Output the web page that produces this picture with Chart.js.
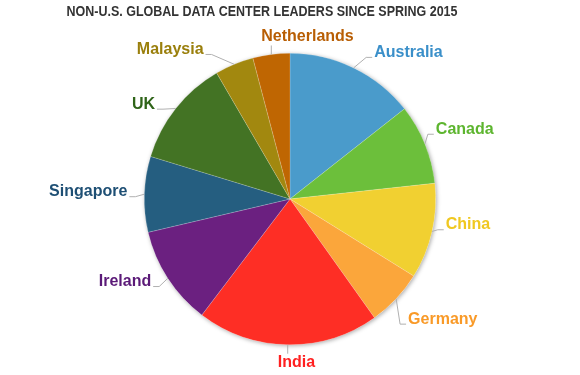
<!DOCTYPE html>
<html lang="en">
  <head>
    <meta charset="UTF-8" />
    <title>Non-U.S. Global Data Center Leaders</title>
    <script src="https://cdn.jsdelivr.net/npm/chart.js"></script>
    <style>
      body { margin: 0; background: #fff; }
      canvas { display: block; }
    </style>
  </head>
  <body>
    <canvas id="leadersChart" width="580" height="375"></canvas>
    <script>
      const countries = ["Australia", "Canada", "China", "Germany", "India", "Ireland", "Singapore", "UK", "Malaysia", "Netherlands"];
      // share of leaders (%)
      const shares = [14.4, 8.9, 10.6, 6.3, 20.2, 11.0, 8.4, 11.9, 4.3, 4.1];
      const sliceColors = ["#4a9bcb", "#6cbf3b", "#f1d031", "#fba63b", "#fe2e25", "#6b2080", "#255e80", "#437324", "#a2880f", "#bf6602"];
      const labelColors = ["#3a8fc9", "#5db52f", "#f0c820", "#f99a28", "#ff2020", "#5b1a78", "#1e4f74", "#2f6419", "#9a7f0c", "#b85e04"];
      const chartTitle = "NON-U.S. GLOBAL DATA CENTER LEADERS SINCE SPRING 2015";

      // small nudges so labels don't crowd, like the original layout
      const labelNudge = [[6, 3], [-11, -4], [-9, -5], [-7, 15], [0, 0], [4, 0], [6, 3], [-1, 10], [-17, 4], [0, 0]];

      const pieShadow = {
        id: "pieShadow",
        beforeDatasetsDraw(chart) {
          const arc = chart.getDatasetMeta(0).data[0];
          if (!arc) return;
          const ctx = chart.ctx;
          ctx.save();
          ctx.beginPath();
          ctx.arc(arc.x, arc.y, arc.outerRadius, 0, Math.PI * 2);
          ctx.shadowColor = "rgba(0,0,0,0.35)";
          ctx.shadowBlur = 4;
          ctx.shadowOffsetX = 1;
          ctx.shadowOffsetY = 1;
          ctx.fillStyle = "#fff";
          ctx.fill();
          ctx.restore();
        },
      };

      const outsideLabels = {
        id: "outsideLabels",
        afterDatasetsDraw(chart) {
          const ctx = chart.ctx;
          const arcs = chart.getDatasetMeta(0).data;
          ctx.save();
          ctx.font = "bold 16px 'Liberation Sans', Arial, sans-serif";
          arcs.forEach((arc, i) => {
            const mid = (arc.startAngle + arc.endAngle) / 2;
            const cos = Math.cos(mid);
            const sin = Math.sin(mid);
            const r = arc.outerRadius;
            const ex = arc.x + r * cos;
            const ey = arc.y + r * sin;
            const [nx, ny] = labelNudge[i];
            ctx.strokeStyle = "#b0b0b0";
            ctx.lineWidth = 1;
            ctx.fillStyle = labelColors[i];
            ctx.beginPath();
            ctx.moveTo(ex, ey);
            if (Math.abs(cos) > 0.3) {
              const dir = cos > 0 ? 1 : -1;
              const bx = arc.x + (r + 15) * cos + nx;
              const by = arc.y + (r + 15) * sin + ny;
              const lx = bx + dir * 6;
              ctx.lineTo(bx, by);
              ctx.lineTo(lx, by);
              ctx.stroke();
              ctx.textAlign = dir > 0 ? "left" : "right";
              ctx.textBaseline = "middle";
              ctx.fillText(countries[i], lx + dir * 2, by - 5);
            } else {
              const dir = sin > 0 ? 1 : -1;
              const by = ey + dir * 9;
              ctx.lineTo(ex, by);
              ctx.stroke();
              ctx.textAlign = "left";
              ctx.textBaseline = dir > 0 ? "top" : "bottom";
              ctx.fillText(countries[i], ex - 10 + nx, by + dir * 1 + ny);
            }
          });
          ctx.restore();
        },
      };

      const titleText = {
        id: "titleText",
        afterDraw(chart) {
          const ctx = chart.ctx;
          ctx.save();
          ctx.font = "bold 14px 'Liberation Sans', Arial, sans-serif";
          const w = ctx.measureText(chartTitle).width;
          const target = 391;
          ctx.translate(262, 12.5);
          ctx.scale(target / w, 1);
          ctx.fillStyle = "#333";
          ctx.textAlign = "center";
          ctx.textBaseline = "middle";
          ctx.fillText(chartTitle, 0, 0);
          ctx.restore();
        },
      };

      new Chart(document.getElementById("leadersChart"), {
        type: "pie",
        data: {
          labels: countries,
          datasets: [
            {
              data: shares,
              backgroundColor: sliceColors,
              borderColor: "rgba(255,255,255,0.35)",
              borderWidth: 0.5,
            },
          ],
        },
        options: {
          responsive: false,
          animation: false,
          layout: { padding: { left: 144, right: 144, top: 53, bottom: 30 } },
          plugins: {
            legend: { display: false },
            tooltip: { enabled: false },
          },
        },
        plugins: [pieShadow, outsideLabels, titleText],
      });
    </script>
  </body>
</html>
